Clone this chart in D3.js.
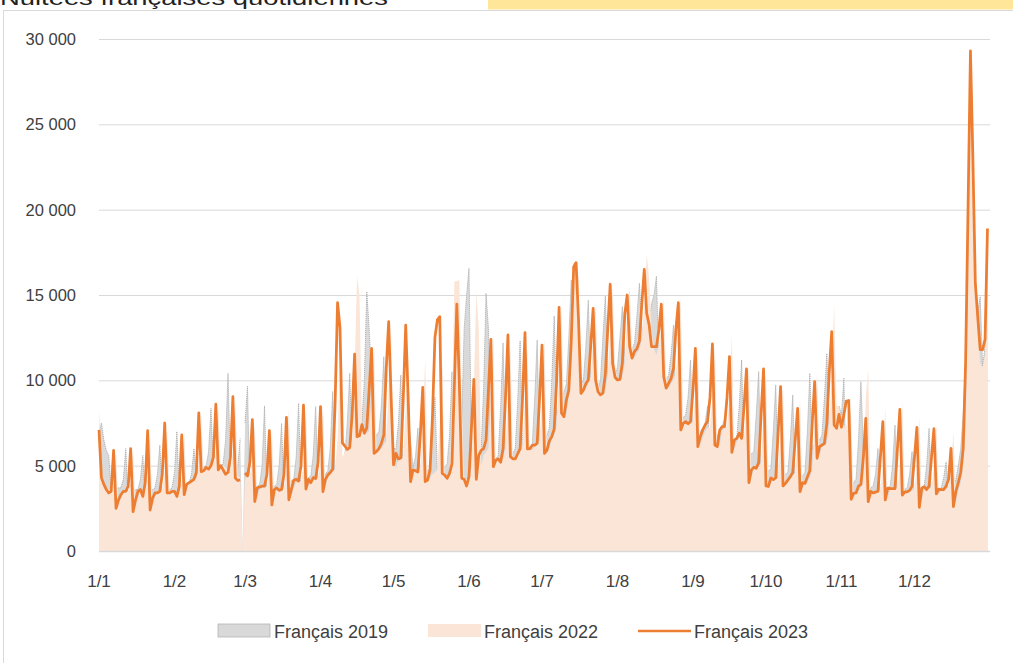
<!DOCTYPE html>
<html><head><meta charset="utf-8">
<script src="https://cdn.jsdelivr.net/npm/d3@7"></script>
<style>body{margin:0;background:#fff;overflow:hidden} svg{display:block}</style>
</head><body><svg id="c" width="1013" height="663"></svg>
<script>
// Daily French overnight stays, indexed on a leap-year calendar (slot 59 = 29 Feb is blank)
const seriesNames = ["Français 2019", "Français 2022", "Français 2023"];
const yTickValues = [0, 5000, 10000, 15000, 20000, 25000, 30000];
const titleText = "Nuitées françaises quotidiennes";

const fr2019 = [
  7000,7500,6500,5900,5600,
  3500,3600,3600,3700,3700,4200,6000,
  2800,3300,3500,3600,3600,4200,5600,
  2800,3300,3500,3600,3700,4500,6200,
  3000,3400,3500,3600,3700,4600,7000,
  3300,3700,3800,3900,4000,4500,6000,
  4300,4700,4800,4900,5000,5800,8360,
  4800,5000,5000,5000,5100,6500,10410,
  4800,4700,4700,4900,6600,null,7500,9650,
  3200,3700,3800,3800,3900,5000,8500,
  3100,3700,3800,3800,3900,5000,7480,
  3300,4000,4000,4100,4200,5500,8650,
  3500,4100,4200,4300,4400,5600,8460,
  3800,4300,4400,4500,4700,6000,9340,
  4200,4800,5000,5300,5600,7500,10410,
  5500,6500,6800,7000,7500,10000,15200,
  13000,10000,6500,6800,7000,8500,11390,
  5800,5800,7500,6000,6000,7500,10310,
  4500,4700,8000,6500,4900,5500,7200,
  4300,4500,4600,4700,4900,6500,9000,
  4600,4700,4800,4900,5100,6800,10500,
  5000,5200,5400,7500,13000,15000,16560,
  6000,5500,5700,5800,6000,9500,15100,
  13000,6000,5300,5400,5600,8500,12190,
  5500,5500,5600,5700,6000,8800,12320,
  5800,5800,5900,6000,6300,9000,12360,
  6000,6200,6500,6800,7200,10000,13770,
  8000,8500,9000,9300,9800,12500,15880,
  14000,9500,9500,9800,10000,12000,14700,
  10000,9500,9400,9500,10000,12500,14940,
  10500,10000,10000,10200,10800,12500,14320,
  11500,11300,11500,11800,12200,13800,15690,
  13000,13000,13200,13500,14500,15000,16100,
  11000,10000,9800,10000,10300,11500,13240,
  8500,7700,7800,7800,8000,9000,11190,
  6500,6500,6800,7000,7200,7500,8500,
  6000,6300,6600,6800,7000,7300,7770,
  5500,6000,6200,6400,6600,8500,11190,
  5000,5500,5600,5700,5800,8000,10510,
  4200,4500,4600,4700,4800,7000,9730,
  4000,4300,4400,4500,4600,6500,9140,
  3900,4200,4300,4400,4600,7000,10410,
  6000,6300,6400,6500,6800,9000,11580,
  7500,7300,7500,8000,8500,8000,10120,
  3500,3800,3900,4000,4200,6500,9920,
  6000,5000,3500,3700,3800,4500,6000,
  3000,3500,3600,3700,3800,5000,7380,
  3000,3500,3600,3600,3700,4500,5820,
  3000,3500,3600,3700,3800,5000,7190,
  3000,3500,3600,3600,3700,4300,5230,
  3200,3500,3800,4200,5000,6000,8000,
  11000,18000,29000,22000,16000,14000,14900,
  10800,12000,18000
];

const fr2022 = [
  8400,4800,4000,3700,3600,3600,4000,
  5800,2600,3100,3400,3500,3500,4000,
  6000,2500,3100,3500,3500,3500,4200,
  6800,2500,3200,3400,3500,3600,4600,
  7200,3300,3400,3500,3500,3500,4300,
  7000,3600,4000,4100,4200,4300,5000,
  8000,4800,4900,5000,5000,5100,5800,
  8500,4900,5000,4900,4800,4900,5800,
  8900,4400,4300,null,4200,4500,4500,5200,
  7500,3000,3600,3700,3700,3800,4600,
  7200,2900,3600,3600,3600,3700,4700,
  8400,3100,3700,4000,4100,4100,5000,
  8500,3700,4100,4100,4200,4300,5200,
  8700,3700,4300,4500,4600,4800,6500,
  11000,5500,5800,6000,6200,6500,10500,
  16100,15000,7500,6800,6900,7000,9000,
  12000,5800,5900,6000,6200,6500,9500,
  13000,5500,4800,5400,5400,5500,8500,
  11500,4300,4600,4700,4700,4800,7500,
  11300,4200,4300,4500,4600,4800,7500,
  11000,4500,4400,4600,8000,15800,15800,
  15900,9000,4300,4200,4300,4800,9500,
  15300,13000,5000,5600,5800,6000,9000,
  12600,5200,5300,5300,5400,6000,9000,
  12100,5500,5500,5600,5800,6200,9000,
  12000,5900,5900,6100,6200,6500,9000,
  12500,5800,6000,6500,6800,7300,10500,
  14500,8000,8000,9000,11000,16700,16500,
  16000,10500,9300,9500,9800,10200,12500,
  14500,10000,9300,9200,9300,10300,13000,
  15500,11000,10000,10000,10200,11000,14000,
  15500,12000,11300,11600,11800,12400,14500,
  17400,16000,13000,11800,11500,12000,13000,
  14800,10300,9500,9800,10000,10500,12000,
  14900,7500,7400,7500,7500,7600,9000,
  12000,6200,6600,7000,7200,7300,9000,
  12000,6200,6200,7000,7200,7300,9000,
  12700,5900,6400,6600,6800,6700,8500,
  11000,4300,4800,4900,4900,5200,8000,
  10500,3900,3900,4300,4200,4300,7000,
  9800,3900,4000,4200,4400,4600,6500,
  8800,3600,4000,4000,4300,4700,7500,
  10500,5600,6100,6200,6300,7500,10000,
  14500,8500,8500,7500,7300,7300,8500,
  8000,3000,3500,3500,3700,4000,9000,
  10700,3000,3500,3500,3500,3600,5000,
  8500,3000,3600,3700,3700,3700,5000,
  8800,3300,3500,3500,3500,3700,5000,
  7800,3000,3600,3700,3700,3700,5000,
  7400,3300,3600,3600,3600,3800,4800,
  7000,2800,3500,4000,5000,7000,15000,
  29500,22000,15500,13000,11000,10800,11500,
  18800
];

const fr2023 = [
  7100,4300,3900,3600,3400,3500,5900,
  2500,3000,3300,3500,3500,3800,6000,
  2300,3000,3500,3600,3200,4000,7050,
  2400,3100,3400,3400,3500,4500,7500,
  3400,3400,3500,3500,3200,3800,6800,
  3300,3900,4000,4100,4200,4600,8100,
  4650,4700,4900,4800,5000,5500,8600,
  4750,5000,4750,4500,4600,5500,9040,
  4270,4130,4170,null,4570,4400,5200,7700,
  2900,3700,3750,3800,3800,4500,7050,
  2700,3600,3700,3550,3600,4500,7830,
  3000,3600,4150,4200,4100,5000,8550,
  3630,4200,4000,4300,4250,5200,8460,
  3480,4200,4450,4600,4800,8700,14550,
  13100,6330,6150,5950,6050,8000,11540,
  6700,6750,7400,6900,7200,9500,11870,
  5720,5830,6000,6300,6800,10700,13440,
  9000,5040,5720,5400,5450,9000,13240,
  9000,4060,4750,4700,4630,6800,9590,
  4060,4150,4750,7900,12500,13540,13730,
  4550,4450,4260,4550,5100,9800,14470,
  10000,4260,4200,3810,4360,7200,10060,
  4200,5600,5900,6000,6500,9500,12400,
  4940,5320,5400,5200,6000,9000,12660,
  5530,5400,5400,5700,6000,9000,12800,
  5980,6000,6200,6200,6300,9000,12070,
  5720,5900,6450,6700,7150,10000,14280,
  8080,7870,8850,9430,12300,16660,16900,
  13500,9240,9430,9800,10020,12000,14220,
  10020,9330,9150,9250,10340,13000,15630,
  11000,10180,10020,10050,11000,13900,15000,
  11970,11300,11700,11860,12300,14500,16500,
  13930,13250,11970,11970,11970,12950,14460,
  10210,9540,9820,10100,10700,13000,14550,
  7090,7480,7580,7450,7580,9400,11870,
  6110,6700,7090,7380,7600,9000,12130,
  6210,6110,7090,7290,7300,9000,11390,
  5780,6510,6600,6900,6600,8500,10670,
  4000,4750,4900,4850,5180,8000,10670,
  3810,3780,4280,4180,4280,7000,9630,
  3810,3960,4160,4360,4600,6500,8360,
  3480,4000,3960,4340,4700,7500,9920,
  5430,6110,6210,6300,7480,10500,12860,
  7380,7190,8010,7250,8000,8790,8820,
  3030,3380,3400,3800,3900,5500,7770,
  2890,3500,3400,3450,3500,5500,7580,
  2990,3680,3650,3650,3650,6000,8300,
  3280,3460,3460,3550,3800,5500,7250,
  2560,3680,3770,3600,3800,5500,7170,
  3340,3630,3600,3600,3800,4200,6010,
  2600,3500,4000,4600,6000,11000,20000,
  29300,23000,15700,13700,11800,11800,12400,
  18900
];

const svg = d3.select("#c");
const FONT = "'Liberation Sans', Arial, sans-serif";

// header bits (cropped at top of the picture)
svg.append("rect").attr("x", 488).attr("y", 0).attr("width", 525).attr("height", 9.5).attr("fill", "#ffe699");
svg.append("text").attr("x", 0).attr("y", 5).attr("font-family", FONT)
  .attr("font-size", 21).attr("fill", "#222").attr("textLength", 388).attr("lengthAdjust", "spacingAndGlyphs")
  .text(titleText);
// chart frame
svg.append("rect").attr("x", 3.5).attr("y", 10.5).attr("width", 1020).attr("height", 670)
  .attr("fill", "none").attr("stroke", "#d9d9d9").attr("stroke-width", 1);

const day0 = new Date(2024, 0, 1);
const dates = d3.range(fr2023.length).map(i => d3.timeDay.offset(day0, i));
const x = d3.scaleTime().domain([dates[0], dates[dates.length - 1]]).range([99, 987.5]);
const y = d3.scaleLinear().domain([0, 30000]).range([551, 39]);

// gridlines
svg.append("g").selectAll("line").data(yTickValues).join("line")
  .attr("x1", 99).attr("x2", 990).attr("y1", d => y(d) + 0.5).attr("y2", d => y(d) + 0.5)
  .attr("stroke", "#d9d9d9").attr("stroke-width", 1);

const areaGen = d3.area().x((d, i) => x(dates[i])).y0(y(0)).y1(d => y(d == null ? 0 : d));
const lineGen = d3.line().defined(d => d != null).x((d, i) => x(dates[i])).y(d => y(d));

svg.append("path").datum(fr2019).attr("d", areaGen).attr("fill", "#d9d9d9");
svg.append("path").datum(fr2019).attr("d", lineGen).attr("fill", "none")
  .attr("stroke", "#ababab").attr("stroke-width", 0.9).attr("stroke-dasharray", "1.2 0.8");
svg.append("path").datum(fr2022).attr("d", areaGen).attr("fill", "#fbe5d6");
svg.append("line").attr("x1", 99).attr("x2", 990).attr("y1", y(0) + 0.5).attr("y2", y(0) + 0.5)
  .attr("stroke", "#d9d9d9").attr("stroke-width", 1.5);
svg.append("path").datum(fr2023).attr("d", lineGen).attr("fill", "none")
  .attr("stroke", "#ed7d31").attr("stroke-width", 2.75).attr("stroke-linejoin", "round");

// y axis labels
const fmt = v => v === 0 ? "0" : d3.format(",")(v).replace(/,/g, "\u00a0");
svg.append("g").selectAll("text").data(yTickValues).join("text")
  .attr("x", 76).attr("y", d => y(d) + 6).attr("text-anchor", "end")
  .attr("font-family", FONT).attr("font-size", 16.5).attr("fill", "#404040").text(fmt);

// x axis labels
const months = d3.timeMonth.range(day0, d3.timeDay.offset(dates[dates.length - 1], 1));
svg.append("g").selectAll("text").data(months).join("text")
  .attr("x", d => x(d)).attr("y", 587).attr("text-anchor", "middle")
  .attr("font-family", FONT).attr("font-size", 17).attr("fill", "#404040")
  .text(d3.timeFormat("%-d/%-m"));

// legend
const lg = svg.append("g").attr("font-family", FONT).attr("font-size", 18).attr("fill", "#404040");
const legendX = [218, 428, 638];
lg.append("rect").attr("x", legendX[0]).attr("y", 624).attr("width", 52).attr("height", 13)
  .attr("fill", "#d9d9d9").attr("stroke", "#b4b4b4").attr("stroke-width", 0.8);
lg.append("rect").attr("x", legendX[1]).attr("y", 624).attr("width", 53).attr("height", 13).attr("fill", "#fbe5d6");
lg.append("line").attr("x1", legendX[2]).attr("x2", legendX[2] + 53).attr("y1", 631).attr("y2", 631)
  .attr("stroke", "#ed7d31").attr("stroke-width", 2.5);
seriesNames.forEach((n, i) => {
  lg.append("text").attr("x", legendX[i] + 56).attr("y", 637.5).text(n);
});
</script>
</body></html>
